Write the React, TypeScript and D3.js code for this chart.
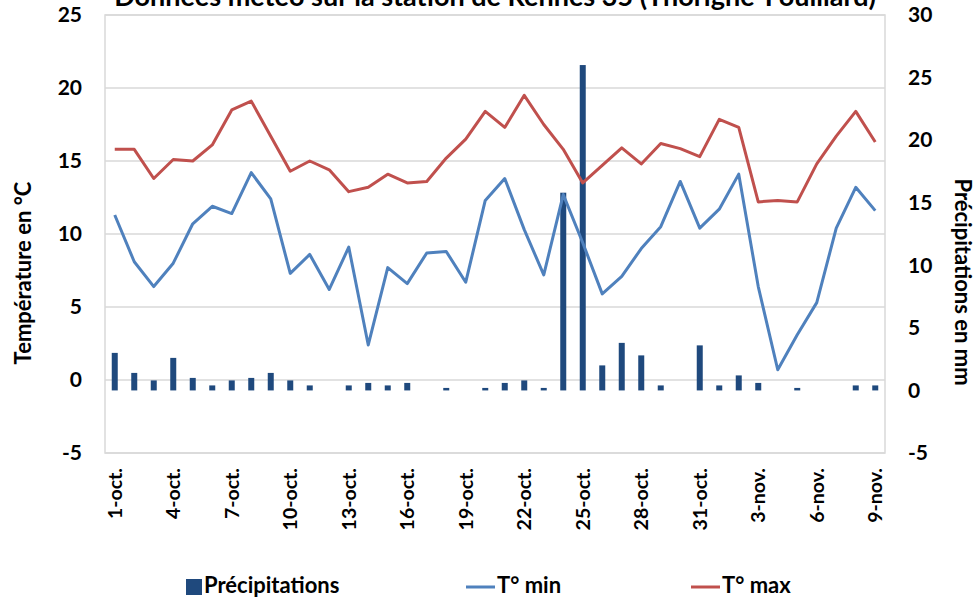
import React, { useEffect, useRef } from 'react';
import * as d3 from 'd3';

const days = [
  '1-oct.', '2-oct.', '3-oct.', '4-oct.', '5-oct.', '6-oct.', '7-oct.', '8-oct.', '9-oct.', '10-oct.',
  '11-oct.', '12-oct.', '13-oct.', '14-oct.', '15-oct.', '16-oct.', '17-oct.', '18-oct.', '19-oct.', '20-oct.',
  '21-oct.', '22-oct.', '23-oct.', '24-oct.', '25-oct.', '26-oct.', '27-oct.', '28-oct.', '29-oct.', '30-oct.',
  '31-oct.', '1-nov.', '2-nov.', '3-nov.', '4-nov.', '5-nov.', '6-nov.', '7-nov.', '8-nov.', '9-nov.',
];

const precip = [
  3.0, 1.4, 0.8, 2.6, 1.0, 0.4, 0.8, 1.0, 1.4, 0.8,
  0.4, 0, 0.4, 0.6, 0.4, 0.6, 0, 0.2, 0, 0.2,
  0.6, 0.8, 0.2, 15.8, 26.0, 2.0, 3.8, 2.8, 0.4, 0,
  3.6, 0.4, 1.2, 0.6, 0, 0.2, 0, 0, 0.4, 0.4,
];

const tMin = [
  11.3, 8.1, 6.4, 8.0, 10.7, 11.9, 11.4, 14.2, 12.4, 7.3,
  8.6, 6.2, 9.1, 2.4, 7.7, 6.6, 8.7, 8.8, 6.7, 12.3,
  13.8, 10.3, 7.2, 12.7, 9.4, 5.9, 7.1, 9.0, 10.5, 13.6,
  10.4, 11.7, 14.1, 6.4, 0.7, 3.1, 5.3, 10.4, 13.2, 11.6,
];

const tMax = [
  15.8, 15.8, 13.8, 15.1, 15.0, 16.1, 18.5, 19.1, 16.7, 14.3,
  15.0, 14.4, 12.9, 13.2, 14.1, 13.5, 13.6, 15.2, 16.5, 18.4,
  17.3, 19.5, 17.5, 15.8, 13.5, 14.7, 15.9, 14.8, 16.2, 15.85,
  15.3, 17.85, 17.3, 12.2, 12.3, 12.2, 14.8, 16.7, 18.4, 16.3,
];

const tempTicks = [-5, 0, 5, 10, 15, 20, 25];
const precipTicks = [-5, 0, 5, 10, 15, 20, 25, 30];

const FONT = 'Lato, "Open Sans", sans-serif';

const App = () => {
  const chartRef = useRef<SVGSVGElement>(null);

  useEffect(() => {
    document.body.style.margin = '0';
    const width = 976;
    const height = 598;
    const margin = { top: 15, right: 91, bottom: 145, left: 105 };

    const svg = d3.select(chartRef.current);
    svg.selectAll('*').remove();

    const x = d3
      .scaleBand<string>()
      .domain(days)
      .range([margin.left, width - margin.right])
      .padding(0);

    const yT = d3
      .scaleLinear()
      .domain([-5, 25])
      .range([height - margin.bottom, margin.top]);

    const yP = d3
      .scaleLinear()
      .domain([-5, 30])
      .range([height - margin.bottom, margin.top]);

    // gridlines
    svg.selectAll('.grid')
      .data(tempTicks)
      .enter().append('line')
      .attr('x1', margin.left)
      .attr('x2', width - margin.right)
      .attr('y1', d => yT(d))
      .attr('y2', d => yT(d))
      .attr('stroke', '#d9d9d9')
      .attr('stroke-width', 1.5);

    svg.append('rect')
      .attr('x', margin.left)
      .attr('y', margin.top)
      .attr('width', width - margin.left - margin.right)
      .attr('height', height - margin.top - margin.bottom)
      .attr('fill', 'none')
      .attr('stroke', '#d9d9d9')
      .attr('stroke-width', 1.5);

    // bars
    const barW = 6;
    svg.selectAll('.bar')
      .data(precip)
      .enter().append('rect')
      .attr('x', (d, i) => x(days[i])! + x.bandwidth() / 2 - barW / 2)
      .attr('y', d => yP(d))
      .attr('width', barW)
      .attr('height', d => yP(0) - yP(d))
      .attr('fill', '#1f497d');

    const line = d3
      .line<number>()
      .x((d, i) => x(days[i])! + x.bandwidth() / 2)
      .y(d => yT(d));

    svg.append('path')
      .datum(tMin)
      .attr('fill', 'none')
      .attr('stroke', '#4f81bd')
      .attr('stroke-width', 3)
      .attr('stroke-linejoin', 'round')
      .attr('d', line);

    svg.append('path')
      .datum(tMax)
      .attr('fill', 'none')
      .attr('stroke', '#c0504d')
      .attr('stroke-width', 3)
      .attr('stroke-linejoin', 'round')
      .attr('d', line);

    // left axis
    svg.append('g')
      .attr('transform', `translate(${margin.left}, 0)`)
      .call(d3.axisLeft(yT).tickValues(tempTicks).tickSize(0).tickPadding(23).tickFormat(d => String(d)))
      .call(g => g.select('.domain').remove())
      .selectAll('text')
      .style('fill', '#000')
      .style('font-family', FONT)
      .style('font-weight', 'bold')
      .style('font-size', '21px');

    // right axis
    svg.append('g')
      .attr('transform', `translate(${width - margin.right}, 0)`)
      .call(d3.axisRight(yP).tickValues(precipTicks).tickSize(0).tickPadding(23).tickFormat(d => String(d)))
      .call(g => g.select('.domain').remove())
      .selectAll('text')
      .style('fill', '#000')
      .style('font-family', FONT)
      .style('font-weight', 'bold')
      .style('font-size', '21px');

    // bottom axis
    svg.append('g')
      .attr('transform', `translate(0, ${height - margin.bottom})`)
      .call(d3.axisBottom(x).tickValues(days.filter((d, i) => i % 3 === 0)).tickSize(0))
      .call(g => g.select('.domain').remove())
      .selectAll('text')
      .attr('transform', 'rotate(-90)')
      .attr('x', -15)
      .attr('y', 0)
      .attr('dy', '0.35em')
      .style('text-anchor', 'end')
      .style('fill', '#000')
      .style('font-family', FONT)
      .style('font-weight', 'bold')
      .style('font-size', '19.5px');

    // title
    svg.append('text')
      .attr('x', (margin.left + width - margin.right) / 2)
      .attr('y', 6)
      .attr('text-anchor', 'middle')
      .style('font-family', FONT)
      .style('font-weight', 'bold')
      .style('font-size', '27px')
      .text('Données météo sur la station de Rennes 35 (Thorigné-Fouillard)');

    // axis titles
    svg.append('text')
      .attr('transform', `translate(31, 273) rotate(-90)`)
      .attr('text-anchor', 'middle')
      .style('font-family', FONT)
      .style('font-weight', 'bold')
      .style('font-size', '22px')
      .text('Température en °C');

    svg.append('text')
      .attr('transform', `translate(955, 282) rotate(90)`)
      .attr('text-anchor', 'middle')
      .style('font-family', FONT)
      .style('font-weight', 'bold')
      .style('font-size', '22px')
      .text('Précipitations en mm');

    // legend
    const legendY = 587;
    const lg = svg.append('g').style('font-family', FONT).style('font-weight', 'bold').style('font-size', '22px');
    lg.append('rect').attr('x', 186).attr('y', legendY - 8).attr('width', 16).attr('height', 16).attr('fill', '#1f497d');
    lg.append('text').attr('x', 204).attr('y', legendY + 6).text('Précipitations');
    lg.append('line').attr('x1', 466).attr('x2', 495).attr('y1', legendY).attr('y2', legendY)
      .attr('stroke', '#4f81bd').attr('stroke-width', 3);
    lg.append('text').attr('x', 497).attr('y', legendY + 6).text('T° min');
    lg.append('line').attr('x1', 691).attr('x2', 720).attr('y1', legendY).attr('y2', legendY)
      .attr('stroke', '#c0504d').attr('stroke-width', 3);
    lg.append('text').attr('x', 722).attr('y', legendY + 6).text('T° max');
  }, []);

  return <svg ref={chartRef} width={976} height={598} style={{ display: 'block' }} />;
};

export default App;
